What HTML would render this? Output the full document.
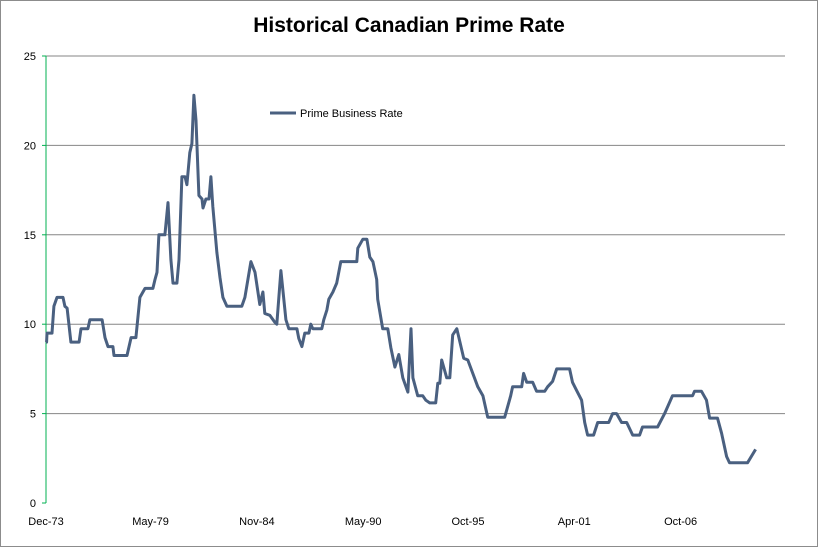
<!DOCTYPE html>
<html><head><meta charset="utf-8"><style>
body{margin:0;background:#fff}
svg{display:block;font-family:"Liberation Sans",sans-serif}
</style></head><body>
<svg id="c" width="818" height="547">
<rect x="0.5" y="0.5" width="817" height="546" fill="#fff" stroke="#8c8c8c"/>
<text x="409" y="32" text-anchor="middle" font-size="21" font-weight="bold">Historical Canadian Prime Rate</text>
<g id="grid"></g>
<g id="axes"></g>
<g id="series"></g>
<g>
<line x1="270" y1="113" x2="296" y2="113" stroke="#4a6080" stroke-width="3"/>
<text x="300" y="117" font-size="11">Prime Business Rate</text>
</g>
</svg>
<script>
const years=[1973.92,1973.95,1973.97,1974.23,1974.33,1974.49,1974.80,1974.90,1975.01,1975.21,1975.63,1975.73,1976.09,1976.19,1976.82,1976.97,1977.13,1977.38,1977.44,1978.11,1978.32,1978.57,1978.78,1979.04,1979.45,1979.56,1979.66,1979.76,1980.07,1980.23,1980.38,1980.49,1980.69,1980.80,1980.95,1981.11,1981.21,1981.36,1981.47,1981.57,1981.68,1981.83,1981.99,1982.04,1982.19,1982.35,1982.45,1982.55,1982.76,1982.92,1983.07,1983.28,1984.05,1984.21,1984.52,1984.73,1984.98,1985.14,1985.24,1985.50,1985.76,1985.86,1986.07,1986.33,1986.48,1986.90,1987.00,1987.16,1987.31,1987.52,1987.62,1987.72,1988.19,1988.29,1988.45,1988.55,1988.76,1988.96,1989.17,1990.00,1990.05,1990.31,1990.52,1990.67,1990.83,1991.03,1991.08,1991.34,1991.60,1991.76,1991.97,1992.17,1992.38,1992.64,1992.80,1992.90,1993.15,1993.41,1993.57,1993.77,1994.08,1994.19,1994.29,1994.39,1994.65,1994.81,1994.96,1995.17,1995.53,1995.74,1996.26,1996.52,1996.77,1997.65,1997.96,1998.06,1998.53,1998.63,1998.79,1999.10,1999.30,1999.72,1999.87,2000.13,2000.34,2001.01,2001.16,2001.37,2001.63,2001.79,2001.94,2002.25,2002.46,2003.03,2003.23,2003.44,2003.70,2003.96,2004.27,2004.63,2004.78,2005.56,2005.92,2006.33,2007.37,2007.47,2007.83,2008.09,2008.25,2008.66,2008.87,2009.13,2009.28,2010.21,2010.63];
const rates=[9.0,9.0,9.5,9.5,11.0,11.5,11.5,11.0,10.9,9.0,9.0,9.75,9.75,10.25,10.25,9.25,8.75,8.75,8.25,8.25,9.25,9.25,11.5,12.0,12.0,12.5,12.9,15.0,15.0,16.8,13.6,12.3,12.3,13.6,18.25,18.25,17.8,19.6,20.1,22.8,21.4,17.2,17.0,16.5,17.0,17.0,18.25,16.6,14.0,12.6,11.5,11.0,11.0,11.5,13.5,12.9,11.1,11.8,10.6,10.5,10.1,10.0,13.0,10.25,9.75,9.75,9.2,8.75,9.5,9.5,10.0,9.75,9.75,10.25,10.8,11.4,11.8,12.3,13.5,13.5,14.25,14.75,14.75,13.75,13.5,12.5,11.4,9.75,9.75,8.7,7.6,8.3,7.0,6.2,9.75,7.0,6.0,6.0,5.75,5.6,5.6,6.7,6.7,8.0,7.0,7.0,9.4,9.75,8.1,8.0,6.5,6.0,4.8,4.8,6.0,6.5,6.5,7.25,6.75,6.75,6.25,6.25,6.5,6.8,7.5,7.5,6.75,6.3,5.75,4.5,3.8,3.8,4.5,4.5,5.0,5.0,4.5,4.5,3.8,3.8,4.25,4.25,5.0,6.0,6.0,6.25,6.25,5.75,4.75,4.75,3.9,2.6,2.25,2.25,3.0];
const yTicks=[0,5,10,15,20,25];
const xTickLabels=["Dec-73","May-79","Nov-84","May-90","Oct-95","Apr-01","Oct-06"];
const xTickYears=[1973.92,1979.33,1984.83,1990.33,1995.75,2001.25,2006.75];
const NS="http://www.w3.org/2000/svg";
const X0=46,Y0=503,YTOP=56,XR=785;
function sx(t){return X0+(t-1973.92)*19.33;}
function sy(v){return Y0-(v/25)*(Y0-YTOP);}
function mk(tag,attrs,parent,text){const e=document.createElementNS(NS,tag);for(const k in attrs)e.setAttribute(k,attrs[k]);if(text!==undefined)e.textContent=text;parent.appendChild(e);return e;}
const grid=document.getElementById('grid'),axes=document.getElementById('axes'),series=document.getElementById('series');
yTicks.forEach(v=>{
  if(v>0){const g=mk('line',{x1:X0,x2:XR,y1:sy(v),y2:sy(v),stroke:'#868686','stroke-width':1},grid);
  
  }
  const tk=mk('line',{x1:X0-4,x2:X0,y1:sy(v),y2:sy(v),stroke:'#00b050'},axes);
  
  
  const t=mk('text',{x:X0-10,y:sy(v)+4,'text-anchor':'end','font-size':11},axes,String(v));
  
  
});
const ax=mk('line',{x1:X0,x2:X0,y1:YTOP,y2:Y0,stroke:'#00b050','stroke-width':1},axes);


xTickLabels.forEach((l,i)=>{
  const t=mk('text',{x:sx(xTickYears[i]),y:Y0+22,'text-anchor':'middle','font-size':11},axes,l);
  
  
});
const pts=years.map((t,i)=>sx(t).toFixed(1)+','+sy(rates[i]).toFixed(1)).join(' ');
const pl=mk('polyline',{points:pts,fill:'none',stroke:'#4a6080','stroke-width':3,'stroke-linejoin':'round'},series);


</script>
</body></html>
